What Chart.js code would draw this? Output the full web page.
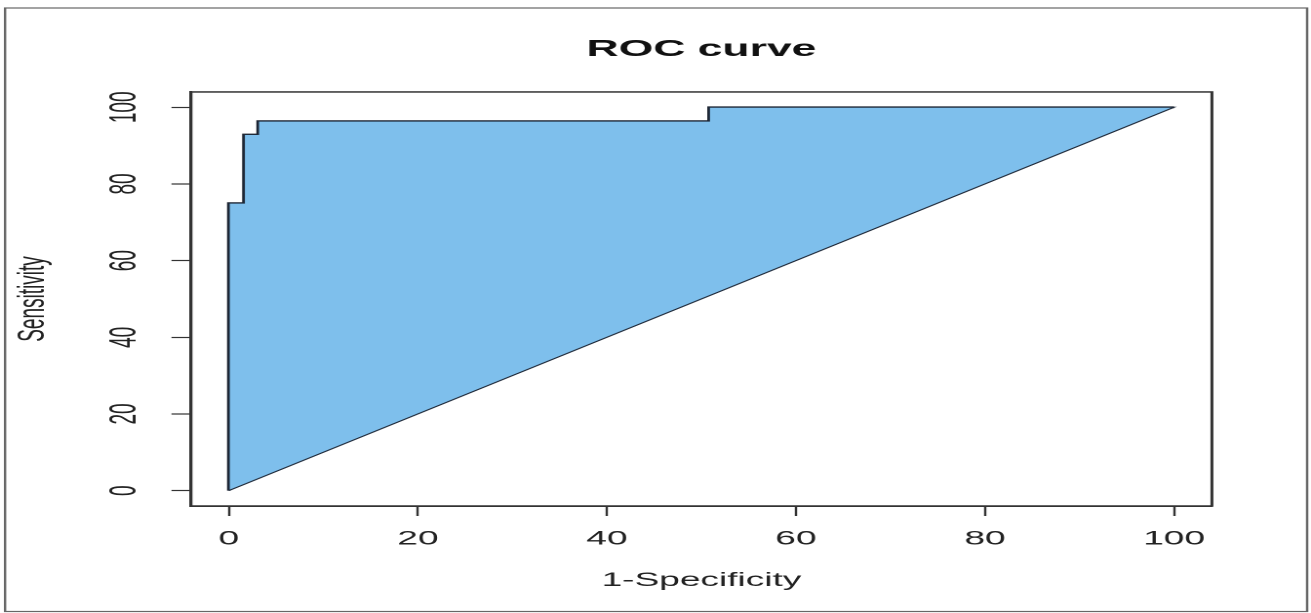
<!DOCTYPE html>
<html><head><meta charset="utf-8">
<script src="https://cdn.jsdelivr.net/npm/chart.js@4.4.1/dist/chart.umd.min.js"></script>
<style>
html,body{margin:0;padding:0;overflow:hidden;background:#fff;width:1311px;height:613px}
#c{display:block;transform:scaleX(1.950893);transform-origin:0 0}
</style></head><body>
<canvas id="c" width="672" height="613"></canvas>
<script>
const chartTitle = 'ROC curve';
const xTitle = '1-Specificity';
const yTitle = 'Sensitivity';
// ROC step curve (1-specificity %, sensitivity %)
const fpr = [0, 0, 1.6, 1.6, 3.1, 3.1, 50.8, 50.8, 100];
const tpr = [0, 75, 75, 92.9, 92.9, 96.4, 96.4, 100, 100];
// chance diagonal closing the shaded area
const diagX = [100, 0];
const diagY = [100, 0];
const xTicks = [0, 20, 40, 60, 80, 100];
const yTicks = [0, 20, 40, 60, 80, 100];

const rocPts = fpr.map((x, i) => ({x: x, y: tpr[i]}));
const polyPts = rocPts.concat(diagX.map((x, i) => ({x: x, y: diagY[i]})));

const FONT = "'Liberation Sans', Arial, Helvetica, sans-serif";
const INK = '#222';

const boxPlugin = {
  id: 'boxPlugin',
  beforeDraw(chart) {
    const ctx = chart.ctx;
    ctx.save();
    ctx.fillStyle = '#fff';
    ctx.fillRect(0, 0, chart.width, chart.height);
    ctx.strokeStyle = '#666';
    ctx.lineWidth = 1.2;
    ctx.strokeRect(2.6, 8, 667.4, 603.5);
    ctx.restore();
  },
  afterDraw(chart) {
    const a = chart.chartArea;
    const ctx = chart.ctx;
    ctx.save();
    ctx.strokeStyle = '#333';
    ctx.lineWidth = 1.5;
    ctx.strokeRect(a.left, a.top, a.right - a.left, a.bottom - a.top);
    ctx.restore();
  }
};

new Chart(document.getElementById('c'), {
  type: 'scatter',
  data: {
    datasets: [
      {
        data: polyPts,
        showLine: true,
        fill: 'shape',
        backgroundColor: '#7ebfec',
        borderColor: '#1f2a3a',
        borderWidth: 1,
        pointRadius: 0,
        tension: 0
      },
      {
        data: rocPts,
        showLine: true,
        fill: false,
        borderColor: '#151b26',
        borderWidth: 1.8,
        pointRadius: 0,
        tension: 0
      }
    ]
  },
  options: {
    responsive: false,
    devicePixelRatio: 2,
    animation: false,
    layout: {padding: {left: 0, right: 50.8, top: 0, bottom: 0}},
    plugins: {
      legend: {display: false},
      tooltip: {enabled: false},
      title: {
        display: true,
        text: chartTitle,
        fullSize: false,
        color: '#111',
        font: {family: FONT, size: 22.8, weight: 'bold', lineHeight: 1.2},
        padding: {top: 36, bottom: 28.6}
      }
    },
    scales: {
      x: {
        type: 'linear',
        min: -4, max: 104,
        afterBuildTicks: s => { s.ticks = xTicks.map(v => ({value: v})); },
        afterFit: s => { s.height = 107; },
        grid: {drawOnChartArea: false, drawTicks: true, tickLength: 10, tickColor: '#333', tickWidth: 1.2},
        border: {display: true, color: '#333', width: 1.5},
        ticks: {color: INK, font: {family: FONT, size: 19}, padding: 12, maxRotation: 0, minRotation: 0},
        title: {display: true, text: xTitle, color: INK, font: {family: FONT, size: 19, lineHeight: 1.2}, padding: {top: 0, bottom: 21}}
      },
      y: {
        type: 'linear',
        min: -4, max: 104,
        afterBuildTicks: s => { s.ticks = yTicks.map(v => ({value: v})); },
        afterFit: s => { s.width = 97.9; },
        grid: {drawOnChartArea: false, drawTicks: true, tickLength: 10, tickColor: '#333', tickWidth: 1.2},
        border: {display: true, color: '#333', width: 1.5},
        ticks: {color: INK, font: {family: FONT, size: 19}, padding: 8, minRotation: 90, maxRotation: 90, crossAlign: 'center'},
        title: {display: true, text: yTitle, color: INK, font: {family: FONT, size: 19, lineHeight: 1.2}, padding: {top: 6, bottom: 0}}
      }
    }
  },
  plugins: [boxPlugin]
});
</script>
</body></html>
